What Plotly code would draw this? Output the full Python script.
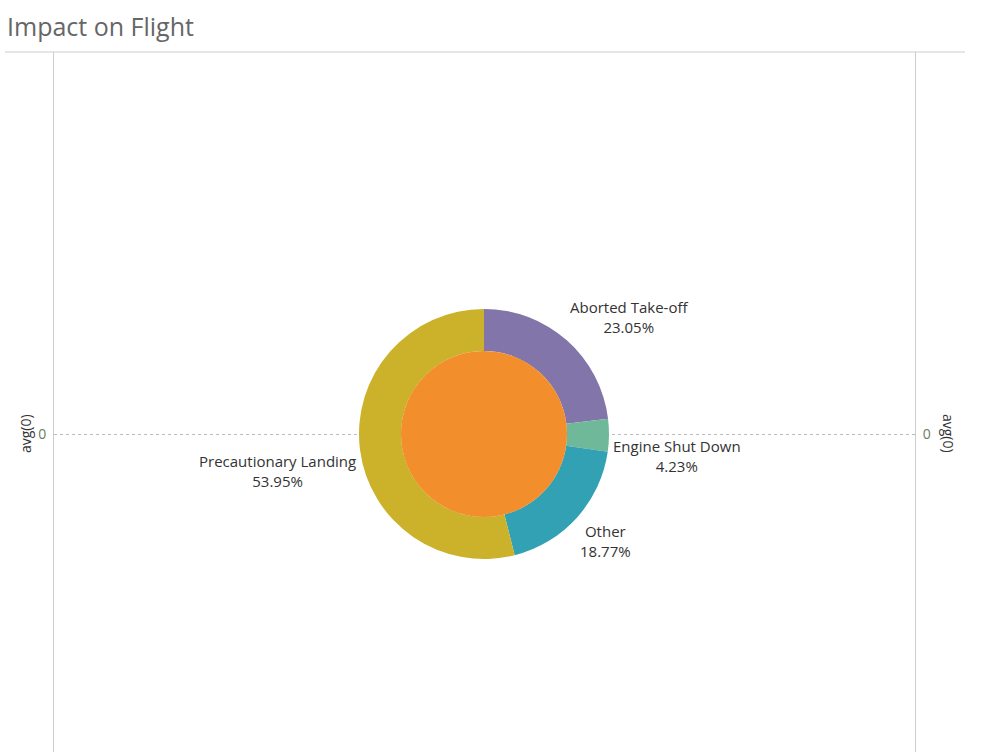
import math
import plotly.graph_objects as go

# ---- data ----
categories = ["Aborted Take-off", "Engine Shut Down", "Other", "Precautionary Landing"]
shares = [23.05, 4.23, 18.77, 53.95]
ring_colors = ["#8175AA", "#6FB899", "#31A1B3", "#CCB22B"]
inner_label = ["avg(0)"]
inner_value = [1]
inner_color = ["#F28E2B"]
y_tick_vals = [0]
y_tick_text = ["0"]
axis_title = "avg(0)"
title_text = "Impact on Flight"

# ---- layout geometry (pixels) ----
W, H = 1001, 752
L, R, T, B = 54, 86, 52, 0
pw, ph = W - L - R, H - T - B
cx_px, cy_px = 484, 434
R_out, R_in = 125, 83
label_r = 128

cx = (cx_px - L) / pw
cy = (H - cy_px) / ph

def dom(r):
    return dict(x=[cx - r / pw, cx + r / pw], y=[cy - r / ph, cy + r / ph])

# y range so that 0 sits at cy_px
ytop = 1.0
frac_top = (cy_px - T) / ph
ybot = ytop - ytop / frac_top

fig = go.Figure()

# empty traces so both value axes are drawn
fig.add_trace(go.Scatter(x=[], y=[], showlegend=False, hoverinfo="skip"))
fig.add_trace(go.Scatter(x=[], y=[], yaxis="y2", showlegend=False, hoverinfo="skip"))

fig.add_trace(go.Pie(
    labels=categories, values=shares, sort=False, direction="clockwise",
    rotation=0, hole=R_in / R_out, domain=dom(R_out),
    marker=dict(colors=ring_colors, line=dict(width=0)),
    textinfo="none", hoverinfo="label+percent", showlegend=False,
))
fig.add_trace(go.Pie(
    labels=inner_label, values=inner_value, sort=False, domain=dom(R_in),
    marker=dict(colors=inner_color, line=dict(width=0)),
    textinfo="none", hoverinfo="label", showlegend=False,
))

# labels around the ring, derived from slice mid-angles
total = sum(shares)
cum = 0.0
annotations = []
for cat, v in zip(categories, shares):
    mid = (cum + v / 2) / total * 2 * math.pi
    cum += v
    s, c = math.sin(mid), math.cos(mid)
    xa = "left" if s > 0.3 else ("right" if s < -0.3 else "center")
    ya = "bottom" if c > 0.1 else "top"
    annotations.append(dict(
        x=cx, y=cy, xref="paper", yref="paper",
        xshift=label_r * s, yshift=label_r * c,
        xanchor=xa, yanchor=ya, align="center", showarrow=False,
        text=f"{cat}<br>{v:.2f}%",
        font=dict(family="Open Sans", size=15, color="#333333"),
        borderpad=0,
    ))

annotations.append(dict(
    x=(25 - L) / pw, y=cy, xref="paper", yref="paper", textangle=-90,
    text=axis_title, showarrow=False, xanchor="center", yanchor="middle",
    font=dict(family="Open Sans", size=14, color="#333333"),
))
annotations.append(dict(
    x=(949 - L) / pw, y=cy, xref="paper", yref="paper", textangle=90,
    text=axis_title, showarrow=False, xanchor="center", yanchor="middle",
    font=dict(family="Open Sans", size=14, color="#333333"),
))

axis_common = dict(
    range=[ybot, ytop], tickvals=y_tick_vals, ticktext=y_tick_text,
    showline=True, linecolor="#cccccc", linewidth=1, zeroline=False,
    ticks="", ticklabelstandoff=4,
    tickfont=dict(family="Open Sans", size=14, color="#6b7b63"),
    fixedrange=True,
)

fig.update_layout(
    width=W, height=H,
    margin=dict(l=L, r=R, t=T, b=B),
    paper_bgcolor="white", plot_bgcolor="white",
    title=dict(text=title_text, x=7 / W, xref="container", xanchor="left",
               y=1 - 27 / H, yref="container", yanchor="middle",
               font=dict(family="Open Sans", size=25, color="#666666")),
    xaxis=dict(visible=False, range=[0, 1], fixedrange=True),
    yaxis=dict(**axis_common, side="left", showgrid=True,
               gridcolor="#bbbbbb", griddash="dot", gridwidth=1),
    yaxis2=dict(**axis_common, side="right", overlaying="y", showgrid=False),
    annotations=annotations,
    shapes=[dict(type="line", xref="paper", yref="paper",
                 x0=(5 - L) / pw, x1=(965 - L) / pw, y0=1, y1=1,
                 line=dict(color="#cccccc", width=1))],
)

fig.write_html("out.html")
